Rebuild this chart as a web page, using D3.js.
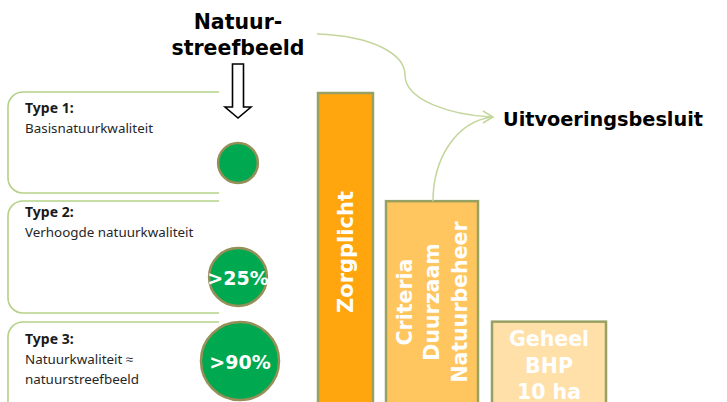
<!DOCTYPE html>
<html>
<head>
<meta charset="utf-8">
<script src="https://cdn.jsdelivr.net/npm/d3@7"></script>
<style>
  html, body { margin: 0; padding: 0; background: #fff; }
  svg { display: block; }
</style>
</head>
<body>
<div id="chart"></div>
<script>
// Natuurtypen links, verplichtingen als staven rechts
const typeTitles = ["Type 1:", "Type 2:", "Type 3:"];
const typeLines = [["Basisnatuurkwaliteit"], ["Verhoogde natuurkwaliteit"], ["Natuurkwaliteit ≈", "natuurstreefbeeld"]];
const circleLabels = ["", ">25%", ">90%"];
const circleValues = [0.26, 0.55, 1.0];

const barNames = [["Zorgplicht"], ["Criteria", "Duurzaam", "Natuurbeheer"], ["Geheel", "BHP", "10 ha"]];
const barValues = [100, 65, 26];

const W = 727, H = 402;
const svg = d3.select("#chart").append("svg").attr("width", W).attr("height", H);

const y = d3.scaleLinear().domain([0, 100]).range([H, 93]);
const r = d3.scaleSqrt().domain([0, 1]).range([0, 39]);

const green = "#c3d69b";
const olive = "#97a163";

// --- boxes
const boxTop = [92, 201, 322], boxBot = [193, 313, 420];
const boxL = 8, boxR = 219, rad = 15;
const boxes = svg.append("g").selectAll("g").data(typeTitles).join("g");
boxes.append("path")
  .attr("d", (d, i) => `M${boxR},${boxTop[i]} H${boxL + rad} A${rad},${rad} 0 0 0 ${boxL},${boxTop[i] + rad}` +
    ` V${boxBot[i] - rad} A${rad},${rad} 0 0 0 ${boxL + rad},${boxBot[i]} H${boxR}`)
  .attr("fill", "none").attr("stroke", "#b4d288").attr("stroke-width", 1.6);
const txtTop = [113, 217, 344];
boxes.append("text")
  .attr("x", 25).attr("y", (d, i) => txtTop[i])
  .attr("font-family", "Noto Sans, sans-serif").attr("font-weight", "bold")
  .attr("font-size", 14).attr("fill", "#1a1a1a").text(d => d);
boxes.each(function (d, i) {
  d3.select(this).selectAll("text.l").data(typeLines[i]).join("text")
    .attr("class", "l").attr("x", 25).attr("y", (t, j) => txtTop[i] + 20 + j * 19.5)
    .attr("font-family", "Noto Sans, sans-serif").attr("font-size", 13.4)
    .attr("fill", "#262626").text(t => t);
});

// --- circles
const cx = [238, 238, 240], cy = [163, 277, 361];
const circ = svg.append("g").selectAll("g").data(circleValues).join("g")
  .attr("transform", (d, i) => `translate(${cx[i]},${cy[i]})`);
circ.append("circle").attr("r", d => r(d))
  .attr("fill", "#00a84f").attr("stroke", "#958f58").attr("stroke-width", 2.5);
circ.append("text").attr("text-anchor", "middle").attr("y", 7.5)
  .attr("font-family", "DejaVu Sans, sans-serif").attr("font-weight", "bold")
  .attr("font-size", 19).attr("fill", "#fff").text((d, i) => circleLabels[i]);

// --- title + hollow arrow
const title = svg.append("text").attr("text-anchor", "middle")
  .attr("font-family", "DejaVu Sans, sans-serif").attr("font-weight", "bold")
  .attr("font-size", 20.5).attr("fill", "#000");
title.append("tspan").attr("x", 238).attr("y", 29).text("Natuur-");
title.append("tspan").attr("x", 238).attr("y", 55).text("streefbeeld");

svg.append("path")
  .attr("d", "M232.5,64 H243.5 V107 H251 L238,118 L225,107 H232.5 Z")
  .attr("fill", "#fff").attr("stroke", "#000").attr("stroke-width", 1.6);

// --- bars
const barX = [318, 386, 492], barW = [55, 92, 114];
const barFill = ["#ffa50d", "#ffc55e", "#ffe0a8"];
const bars = svg.append("g").selectAll("g").data(barValues).join("g");
bars.append("rect")
  .attr("x", (d, i) => barX[i]).attr("y", d => y(d))
  .attr("width", (d, i) => barW[i]).attr("height", d => H + 10 - y(d))
  .attr("fill", (d, i) => barFill[i]).attr("stroke", olive).attr("stroke-width", 2.5);

const barFont = { family: "DejaVu Sans, sans-serif", size: 20.5 };
// vertical labels
[0, 1].forEach(i => {
  const lines = barNames[i];
  const midY = i === 0 ? 252 : 302;
  const cxb = barX[i] + barW[i] / 2;
  const step = 27.5;
  svg.append("g").selectAll("text").data(lines).join("text")
    .attr("transform", (t, j) => `translate(${cxb + (j - (lines.length - 1) / 2) * step + 7},${midY}) rotate(-90)`)
    .attr("text-anchor", "middle")
    .attr("font-family", barFont.family).attr("font-weight", "bold")
    .attr("font-size", i === 0 ? 21 : barFont.size).attr("fill", "#fff").text(t => t);
});
// horizontal label
svg.append("g").selectAll("text").data(barNames[2]).join("text")
  .attr("x", barX[2] + barW[2] / 2).attr("y", (t, j) => 346 + j * 26.5)
  .attr("text-anchor", "middle")
  .attr("font-family", barFont.family).attr("font-weight", "bold")
  .attr("font-size", barFont.size).attr("fill", "#fff").text(t => t);

// --- connectors
svg.append("path")
  .attr("d", "M317,34 C375,36 405,55 405,75 C405,100 450,115 492,117")
  .attr("fill", "none").attr("stroke", green).attr("stroke-width", 1.5);
svg.append("path")
  .attr("d", `M433,${y(barValues[1])} C433,160 455,122 492,117`)
  .attr("fill", "none").attr("stroke", green).attr("stroke-width", 1.5);
svg.append("path")
  .attr("d", "M483,111 L493,117 L483,123")
  .attr("fill", "none").attr("stroke", green).attr("stroke-width", 1.5);

svg.append("text").attr("x", 503).attr("y", 126)
  .attr("font-family", "DejaVu Sans, sans-serif").attr("font-weight", "bold")
  .attr("font-size", 19.3).attr("fill", "#000").text("Uitvoeringsbesluit");
</script>
</body>
</html>
